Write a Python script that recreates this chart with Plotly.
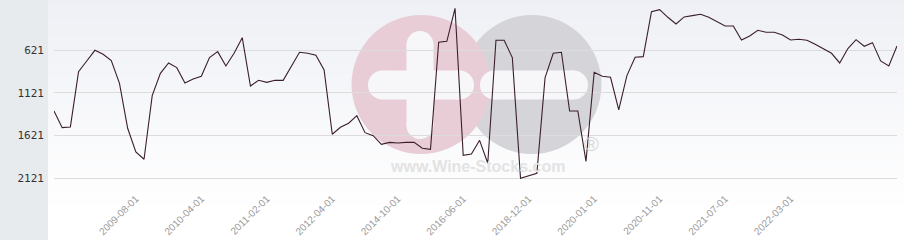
import plotly.graph_objects as go

dates = [
    "2008-10-01", "2008-11-01", "2008-12-01", "2009-01-01", "2009-02-01", "2009-03-01",
    "2009-04-01", "2009-05-01", "2009-06-01", "2009-07-01", "2009-08-01", "2009-09-01",
    "2009-10-01", "2009-11-01", "2009-12-01", "2010-01-01", "2010-02-01", "2010-03-01",
    "2010-04-01", "2010-05-01", "2010-06-01", "2010-07-01", "2010-08-01", "2010-09-01",
    "2010-11-01", "2010-12-01", "2011-02-01", "2011-04-01", "2011-06-01", "2011-07-01",
    "2011-09-01", "2011-11-01", "2012-01-01", "2012-02-01", "2012-04-01", "2012-07-01",
    "2012-11-01", "2013-02-01", "2013-06-01", "2013-10-01", "2014-01-01", "2014-05-01",
    "2014-10-01", "2015-01-01", "2015-03-01", "2015-06-01", "2015-08-01", "2015-11-01",
    "2016-01-01", "2016-04-01", "2016-06-01", "2016-10-01", "2017-02-01", "2017-05-01",
    "2017-09-01", "2018-01-01", "2018-04-01", "2018-08-01", "2018-12-01", "2019-02-01",
    "2019-03-01", "2019-05-01", "2019-07-01", "2019-08-01", "2019-10-01", "2019-11-01",
    "2020-01-01", "2020-02-01", "2020-03-01", "2020-05-01", "2020-06-01", "2020-07-01",
    "2020-08-01", "2020-10-01", "2020-11-01", "2020-12-01", "2021-01-01", "2021-02-01",
    "2021-03-01", "2021-04-01", "2021-05-01", "2021-06-01", "2021-07-01", "2021-08-01",
    "2021-09-01", "2021-10-01", "2021-11-01", "2021-12-01", "2022-01-01", "2022-02-01",
    "2022-03-01", "2022-04-01", "2022-05-01", "2022-06-01", "2022-07-01", "2022-08-01",
    "2022-09-01", "2022-10-01", "2022-11-01", "2022-12-01", "2023-01-01", "2023-02-01",
    "2023-03-01", "2023-04-01",
]

rank = [
    1332, 1527, 1519, 871, 746, 621, 668, 742, 1008, 1535,
    1812, 1898, 1152, 891, 769, 824, 1004, 957, 926, 707,
    637, 805, 656, 473, 1039, 973, 996, 973, 973, 812,
    644, 656, 680, 851, 1605, 1523, 1476, 1387, 1586, 1621,
    1723, 1700, 1707, 1700, 1700, 1769, 1781, 527, 516, 129,
    1851, 1836, 1676, 1945, 504, 504, 707, 2121, 2090, 2062,
    941, 656, 644, 1332, 1332, 1922, 879, 926, 937, 1320,
    918, 703, 695, 168, 144, 234, 312, 230, 215, 199,
    234, 285, 336, 336, 500, 453, 387, 410, 410, 441,
    500, 492, 504, 551, 601, 656, 769, 601, 496, 574,
    531, 746, 805, 570,
]

tick_dates = ["2009-08-01", "2010-04-01", "2011-02-01", "2012-04-01", "2014-10-01",
              "2016-06-01", "2018-12-01", "2020-01-01", "2020-11-01", "2021-07-01",
              "2022-03-01"]
y_ticks = [621, 1121, 1621, 2121]

W, H = 904, 240
L, R, T, B = 54, 7, 0, 50
PW, PH = W - L - R, H - T - B


def px(x):
    return (x - L) / PW


def py(y):
    return 1 - (y - T) / PH


shapes = []
# left grey panel
shapes.append(dict(type="rect", xref="paper", yref="paper", x0=px(0), x1=px(48),
                   y0=py(H), y1=py(0), fillcolor="#e8ebee", line_width=0, layer="below"))
# gradient background
n = 42
for i in range(n):
    t = (i + 0.5) / n
    c = tuple(round(a + (255 - a) * t) for a in (238, 240, 245))
    shapes.append(dict(type="rect", xref="paper", yref="paper", x0=px(48), x1=px(W),
                       y0=py(i * 5 + 5.5), y1=py(i * 5), fillcolor="rgb(%d,%d,%d)" % c,
                       line_width=0, layer="below"))


def circle(cx, cy, r, color):
    return dict(type="circle", xref="paper", yref="paper", x0=px(cx - r), x1=px(cx + r),
                y0=py(cy + r), y1=py(cy - r), fillcolor=color, line_width=0, layer="below")


def rect(x0, y0, x1, y1, color):
    return dict(type="rect", xref="paper", yref="paper", x0=px(x0), x1=px(x1),
                y0=py(y1), y1=py(y0), fillcolor=color, line_width=0, layer="below")


def hpill(x0, x1, cy, h, color):
    r = h / 2
    return [rect(x0 + r, cy - r, x1 - r, cy + r, color), circle(x0 + r, cy, r, color),
            circle(x1 - r, cy, r, color)]


def vpill(cx, y0, y1, w, color):
    r = w / 2
    return [rect(cx - r, y0 + r, cx + r, y1 - r, color), circle(cx, y0 + r, r, color),
            circle(cx, y1 - r, r, color)]


# watermark
shapes.append(circle(532, 84.5, 69.5, "#d5d5d9"))
shapes.append(circle(421, 84.5, 69.5, "#e9cdd6"))
white = "#f7f7fa"
shapes += hpill(480, 588, 85, 29, white)
shapes += hpill(368, 474, 85, 29, white)
shapes += vpill(420, 31, 139, 27, white)

fig = go.Figure()
fig.add_trace(go.Scatter(x=dates, y=rank, mode="lines",
                         line=dict(color="#3b1e2c", width=1.1), hoverinfo="x+y"))

fig.update_layout(
    width=W, height=H,
    margin=dict(l=L, r=R, t=T, b=B),
    paper_bgcolor="#ffffff",
    plot_bgcolor="rgba(0,0,0,0)",
    showlegend=False,
    shapes=shapes,
    annotations=[
        dict(text="www.Wine-Stocks.com", xref="paper", yref="paper", x=px(477), y=py(166),
             xanchor="center", yanchor="middle",
             showarrow=False, font=dict(family="Liberation Sans, Arial", size=16,
                                        color="#e3e3e3", weight="bold")),
        dict(text="®", xref="paper", yref="paper", x=px(591), y=py(144),
             xanchor="center", yanchor="middle",
             showarrow=False, font=dict(family="Liberation Sans, Arial", size=20,
                                        color="#d8d8d8")),
    ],
    xaxis=dict(type="category", range=[0, len(dates) - 1], tickmode="array",
               tickvals=tick_dates, ticktext=tick_dates, tickangle=-45,
               tickfont=dict(family="Liberation Sans, Arial", size=10, color="#9a9a9a"),
               showgrid=False, zeroline=False, showline=False, ticks="", automargin=False),
    yaxis=dict(range=[2258, 31.5], tickmode="array", tickvals=y_ticks,
               ticktext=[str(v) for v in y_ticks], showgrid=True, gridcolor="#dcdcdc",
               gridwidth=1, zeroline=False, showline=False, ticks="",
               ticklabelstandoff=9,
               tickfont=dict(family="DejaVu Sans Mono", size=11, color="#333333"),
               automargin=False),
)

fig.write_html("out.html")
